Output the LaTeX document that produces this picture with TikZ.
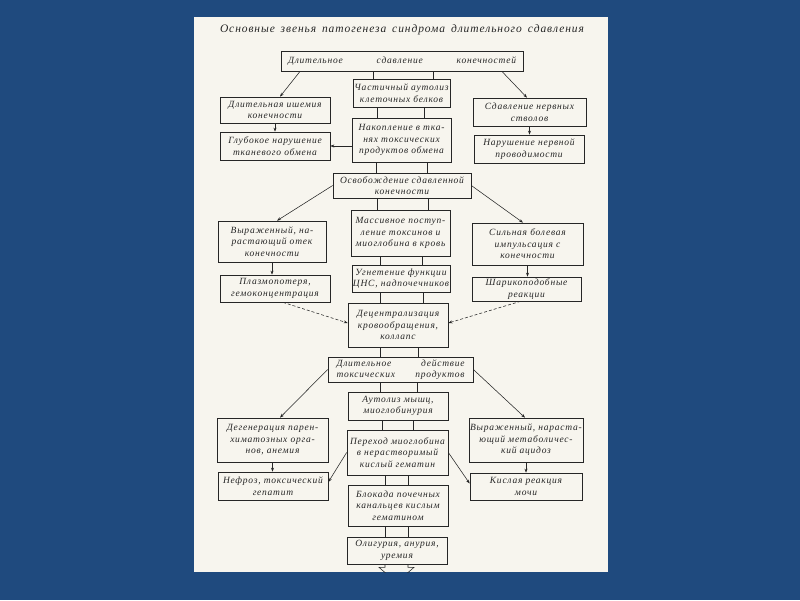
\documentclass[tikz,border=0pt]{standalone}
\usepackage{fontspec}
\setmainfont{Liberation Serif}
\newfontfamily\handfont[LetterSpace=8]{Liberation Serif}
\usetikzlibrary{arrows.meta}

\definecolor{slidebg}{HTML}{1F4A7E}
\definecolor{paper}{HTML}{F7F5EE}
\definecolor{ink}{HTML}{262626}

\tikzset{
    box/.style={draw=ink, line width=0.7pt, fill=paper, align=center, inner sep=1pt, text=ink,
        font=\handfont\itshape\fontsize{9.5}{11.5}\selectfont},
    link/.style={draw=ink, line width=0.55pt},
    arr/.style={link, -{Stealth[length=4pt,width=3pt]}},
}

\begin{document}
\begin{tikzpicture}[x=1pt, y=-1pt]
    \useasboundingbox (0,0) rectangle (800,600);
    \fill[slidebg] (0,0) rectangle (800,600);
    \fill[paper] (194,17) rectangle (608,572);

    \node[text=ink, font=\handfont\itshape\fontsize{11.5}{13}\selectfont] (title) at (402,30)
        {\makebox[364pt][s]{Основные звенья патогенеза синдрома длительного сдавления}};

    \node[box, minimum width=242, minimum height=20] (top) at (402,61.5) {\makebox[228pt][s]{Длительное сдавление конечностей}};
    \node[box, minimum width=97, minimum height=28] (mid1) at (401.5,93) {Частичный аутолиз\\клеточных белков};
    \node[box, minimum width=110, minimum height=26] (left1) at (275,110) {Длительная ишемия\\конечности};
    \node[box, minimum width=113, minimum height=28] (right1) at (529.5,112) {Сдавление нервных\\стволов};
    \node[box, minimum width=110, minimum height=28] (left2) at (275,146) {Глубокое нарушение\\тканевого обмена};
    \node[box, minimum width=99, minimum height=44] (mid2) at (401.5,140) {Накопление в тка-\\нях токсических\\продуктов обмена};
    \node[box, minimum width=110, minimum height=28] (right2) at (529,149) {Нарушение нервной\\проводимости};

    \node[box, minimum width=138, minimum height=25] (release) at (402,185.5) {\makebox[124pt][s]{Освобождение сдавленной}\\конечности};

    \node[box, minimum width=108, minimum height=41] (left3) at (272,241.5) {Выраженный, на-\\растающий отек\\конечности};
    \node[box, minimum width=99, minimum height=46] (mid3) at (400.5,233) {Массивное поступ-\\ление токсинов и\\миоглобина в кровь};
    \node[box, minimum width=111, minimum height=42] (right3) at (527.5,244) {Сильная болевая\\импульсация с\\конечности};
    \node[box, minimum width=110, minimum height=27] (left4) at (275,288.5) {Плазмопотеря,\\гемоконцентрация};
    \node[box, minimum width=98, minimum height=27] (mid4) at (401,278.5) {Угнетение функции\\ЦНС, надпочечников};
    \node[box, minimum width=109, minimum height=24] (right4) at (526.5,289) {Шарикоподобные\\реакции};

    \node[box, minimum width=100, minimum height=44] (decentr) at (398,325) {Децентрализация\\кровообращения,\\коллапс};
    \node[box, minimum width=145, minimum height=25] (toxact) at (400.5,369.5) {\makebox[128pt][s]{Длительное действие}\\\makebox[128pt][s]{токсических продуктов}};

    \node[box, minimum width=100, minimum height=28] (mid5) at (398,406) {Аутолиз мышц,\\миоглобинурия};
    \node[box, minimum width=111, minimum height=44] (left5) at (272.5,440) {Дегенерация парен-\\химатозных орга-\\нов, анемия};
    \node[box, minimum width=101, minimum height=45] (mid6) at (397.5,452.5) {Переход миоглобина\\в нерастворимый\\кислый гематин};
    \node[box, minimum width=112, minimum height=44] (right5) at (526,440) {Выраженный, нараста-\\ющий метаболичес-\\кий ацидоз};
    \node[box, minimum width=110, minimum height=28] (left6) at (273,486) {Нефроз, токсический\\гепатит};
    \node[box, minimum width=100, minimum height=41] (mid7) at (398,505.5) {Блокада почечных\\канальцев кислым\\гематином};
    \node[box, minimum width=112, minimum height=27] (right6) at (526,486.5) {Кислая реакция\\мочи};
    \node[box, minimum width=100, minimum height=27] (bottom) at (397,550.5) {Олигурия, анурия,\\уремия};

    % paired lines down the middle column
    \draw[link] ([xshift=-29pt]top.south) -- ([xshift=-29pt]top.south |- mid1.north);
    \draw[link] ([xshift=31pt]top.south) -- ([xshift=31pt]top.south |- mid1.north);
    \draw[link] ([xshift=-24pt]mid1.south) -- ([xshift=-24pt]mid1.south |- mid2.north);
    \draw[link] ([xshift=23pt]mid1.south) -- ([xshift=23pt]mid1.south |- mid2.north);
    \draw[link] ([xshift=-25pt]mid2.south) -- ([xshift=-25pt]mid2.south |- release.north);
    \draw[link] ([xshift=26pt]mid2.south) -- ([xshift=26pt]mid2.south |- release.north);
    \draw[link] ([xshift=-25pt]release.south) -- ([xshift=-25pt]release.south |- mid3.north);
    \draw[link] ([xshift=26pt]release.south) -- ([xshift=26pt]release.south |- mid3.north);
    \draw[link] ([xshift=-20pt]mid3.south) -- ([xshift=-20pt]mid3.south |- mid4.north);
    \draw[link] ([xshift=22pt]mid3.south) -- ([xshift=22pt]mid3.south |- mid4.north);
    \draw[link] ([xshift=-21pt]mid4.south) -- ([xshift=-21pt]mid4.south |- decentr.north);
    \draw[link] ([xshift=22pt]mid4.south) -- ([xshift=22pt]mid4.south |- decentr.north);
    \draw[link] ([xshift=-18pt]decentr.south) -- ([xshift=-18pt]decentr.south |- toxact.north);
    \draw[link] ([xshift=20pt]decentr.south) -- ([xshift=20pt]decentr.south |- toxact.north);
    \draw[link] ([xshift=-20pt]toxact.south) -- ([xshift=-20pt]toxact.south |- mid5.north);
    \draw[link] ([xshift=17pt]toxact.south) -- ([xshift=17pt]toxact.south |- mid5.north);
    \draw[link] ([xshift=-16pt]mid5.south) -- ([xshift=-16pt]mid5.south |- mid6.north);
    \draw[link] ([xshift=15pt]mid5.south) -- ([xshift=15pt]mid5.south |- mid6.north);
    \draw[link] ([xshift=-12.5pt]mid6.south) -- ([xshift=-12.5pt]mid6.south |- mid7.north);
    \draw[link] ([xshift=10.5pt]mid6.south) -- ([xshift=10.5pt]mid6.south |- mid7.north);
    \draw[link] ([xshift=-13pt]mid7.south) -- ([xshift=-13pt]mid7.south |- bottom.north);
    \draw[link] ([xshift=10pt]mid7.south) -- ([xshift=10pt]mid7.south |- bottom.north);

    \begin{scope}
        \clip (194,17) rectangle (608,572);
        \draw[link] ([xshift=-12pt]bottom.south) -- ++(0,3) -- ++(-6,0) -- ++(17.5,15) -- ++(17.5,-15) -- ++(-6,0) -- ++(0,-3);
    \end{scope}

    % side branches
    \draw[arr] ([xshift=19pt]top.south west) -- ([xshift=5pt]left1.north);
    \draw[arr] ([xshift=-21pt]top.south east) -- ([xshift=-2.5pt]right1.north);
    \draw[arr] (left1.south) -- (left1.south |- left2.north);
    \draw[arr] (right1.south) -- (right1.south |- right2.north);
    \draw[arr] (mid2.west |- left2.east) -- (left2.east);

    \draw[arr] (release.west) -- ([xshift=5pt]left3.north);
    \draw[arr] (release.east) -- ([xshift=-4.5pt]right3.north);
    \draw[arr] (left3.south) -- (left3.south |- left4.north);
    \draw[arr] (right3.south) -- (right3.south |- right4.north);
    \draw[arr, densely dashed] ([xshift=8pt]left4.south) -- ([yshift=2pt]decentr.west);
    \draw[arr, densely dashed] ([xshift=-6pt]right4.south) -- ([yshift=2pt]decentr.east);

    \draw[arr] (toxact.west) -- ([xshift=7.5pt]left5.north);
    \draw[arr] (toxact.east) -- ([xshift=-1pt]right5.north);
    \draw[arr] (left5.south) -- (left5.south |- left6.north);
    \draw[arr] (right5.south) -- (right5.south |- right6.north);
    \draw[arr] (mid6.west) -- ([yshift=4pt]left6.east);
    \draw[arr] (mid6.east) -- ([yshift=3pt]right6.west);
\end{tikzpicture}
\end{document}
